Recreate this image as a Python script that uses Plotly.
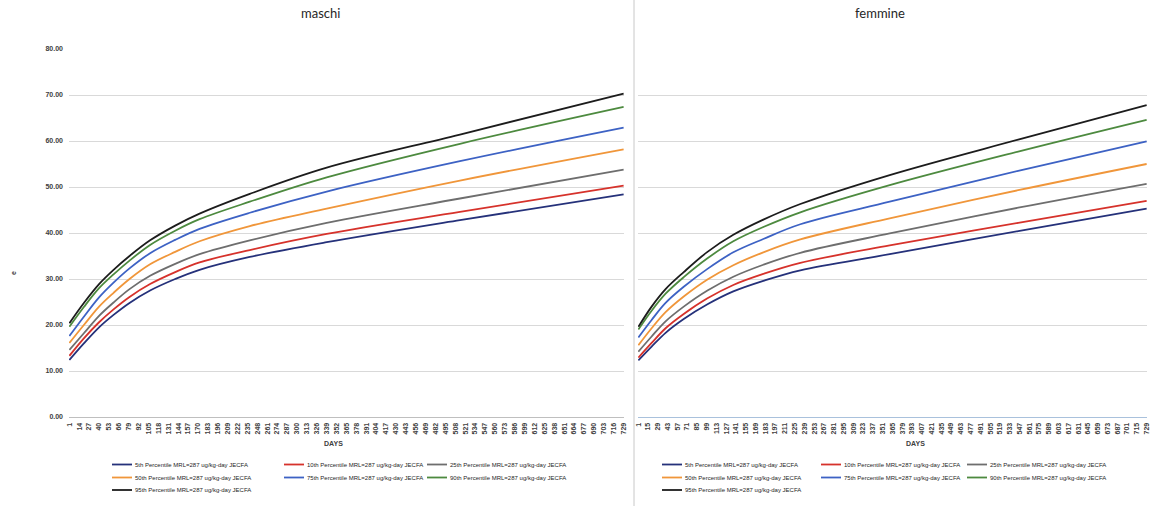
import plotly.graph_objects as go

# ---- data -----------------------------------------------------------------
# maschi (males): days and percentile curves
days_m = [1, 20, 40, 59, 80, 107, 140, 172, 238, 339, 514, 729]
m_p5 = [12.4, 16.0, 19.5, 22.2, 24.8, 27.5, 30.0, 32.0, 34.8, 38.0, 42.8, 48.4]
m_p10 = [13.3, 17.1, 20.6, 23.4, 26.1, 28.9, 31.5, 33.6, 36.3, 39.8, 44.6, 50.3]
m_p25 = [14.6, 18.2, 22.0, 24.9, 27.8, 30.7, 33.3, 35.4, 38.4, 42.2, 47.5, 53.8]
m_p50 = [16.1, 20.0, 24.0, 27.0, 30.0, 33.2, 35.9, 38.2, 41.5, 45.3, 51.4, 58.2]
m_p75 = [17.6, 21.8, 26.0, 29.2, 32.3, 35.6, 38.5, 40.9, 44.4, 49.0, 55.6, 62.9]
m_p90 = [19.6, 23.9, 28.0, 31.0, 34.0, 37.4, 40.5, 43.0, 46.8, 52.1, 59.4, 67.4]
m_p95 = [20.4, 24.8, 28.9, 32.0, 35.0, 38.4, 41.6, 44.2, 48.5, 54.2, 61.4, 70.3]

# femmine (females)
days_f = [1, 20, 40, 66, 100, 137, 180, 233, 361, 545, 729]
f_p5 = [12.3, 15.3, 18.3, 21.3, 24.5, 27.3, 29.6, 31.9, 35.4, 40.4, 45.3]
f_p10 = [12.9, 16.1, 19.3, 22.4, 25.8, 28.7, 31.1, 33.5, 37.3, 42.2, 47.0]
f_p25 = [14.2, 17.5, 20.8, 24.0, 27.5, 30.5, 33.1, 35.7, 39.9, 45.5, 50.7]
f_p50 = [15.6, 19.3, 22.8, 26.2, 29.9, 33.0, 35.8, 38.6, 43.2, 49.3, 55.0]
f_p75 = [17.3, 21.1, 24.8, 28.3, 32.2, 35.8, 38.7, 41.9, 46.8, 53.5, 59.9]
f_p90 = [19.0, 23.1, 26.8, 30.4, 34.5, 38.2, 41.3, 44.5, 50.4, 57.7, 64.6]
f_p95 = [19.6, 24.0, 27.8, 31.5, 35.9, 39.6, 42.9, 46.3, 52.6, 60.3, 67.8]

series_names = [
    "5th Percentile MRL=287 ug/kg-day JECFA",
    "10th Percentile MRL=287 ug/kg-day JECFA",
    "25th Percentile MRL=287 ug/kg-day JECFA",
    "50th Percentile MRL=287 ug/kg-day JECFA",
    "75th Percentile MRL=287 ug/kg-day JECFA",
    "90th Percentile MRL=287 ug/kg-day JECFA",
    "95th Percentile MRL=287 ug/kg-day JECFA",
]
series_colors = ["#25317a", "#d6322b", "#6e6e6e", "#f0963a", "#3d62c4", "#4d8a3f", "#1c1c1c"]

tick_days_m = list(range(1, 730, 13))
tick_days_f = list(range(1, 730, 14))
y_ticks = [0, 10, 20, 30, 40, 50, 60, 70, 80]

males = [m_p5, m_p10, m_p25, m_p50, m_p75, m_p90, m_p95]
females = [f_p5, f_p10, f_p25, f_p50, f_p75, f_p90, f_p95]

# ---- page geometry (pixels on a 1153 x 506 page) ---------------------------
W, H = 1153, 506


def px(x):
    return x / W


def py(y):
    return (H - y) / H


fig = go.Figure()

for vals, nm, c in zip(males, series_names, series_colors):
    fig.add_trace(go.Scatter(
        x=days_m, y=vals, name=nm, mode="lines", showlegend=False,
        line=dict(color=c, width=1.8, shape="spline", smoothing=1.0),
        xaxis="x", yaxis="y",
    ))
for vals, nm, c in zip(females, series_names, series_colors):
    fig.add_trace(go.Scatter(
        x=days_f, y=vals, name=nm, mode="lines", showlegend=False,
        line=dict(color=c, width=1.8, shape="spline", smoothing=1.0),
        xaxis="x2", yaxis="y2",
    ))

y_dom = [py(417), py(49)]
tick_font = dict(family="Liberation Sans", size=7, color="#404040", weight="bold")

fig.update_layout(
    width=W, height=H,
    margin=dict(l=0, r=0, t=0, b=0),
    paper_bgcolor="white", plot_bgcolor="white",
    showlegend=False,
    xaxis=dict(
        domain=[px(69), px(624)], range=[0.5, 729.5],
        tickmode="array", tickvals=tick_days_m, ticktext=[str(d) for d in tick_days_m],
        tickangle=-90, tickfont=tick_font, showgrid=False, zeroline=False,
        showline=True, linecolor="#bfbfbf", linewidth=1, ticks="",
        ticklabelstandoff=2, automargin=False, anchor="y",
    ),
    yaxis=dict(
        domain=y_dom, range=[0, 80], tickmode="array", tickvals=y_ticks,
        tickformat=".2f", tickfont=tick_font, showgrid=True,
        gridcolor="#d9d9d9", gridwidth=1, zeroline=False, showline=False,
        ticks="", ticklabelstandoff=5, automargin=False, anchor="x",
    ),
    xaxis2=dict(
        domain=[px(638), px(1147)], range=[0.5, 729.5],
        tickmode="array", tickvals=tick_days_f, ticktext=[str(d) for d in tick_days_f],
        tickangle=-90, tickfont=tick_font, showgrid=False, zeroline=False,
        showline=True, linecolor="#a9c1dc", linewidth=1, ticks="",
        ticklabelstandoff=2, automargin=False, anchor="y2",
    ),
    yaxis2=dict(
        domain=y_dom, range=[0, 80], tickmode="array", tickvals=y_ticks,
        showticklabels=False, showgrid=True, gridcolor="#d9d9d9", gridwidth=1,
        zeroline=False, showline=False, ticks="", automargin=False, anchor="x2",
    ),
)

# divider between the two charts
fig.add_shape(type="line", xref="paper", yref="paper",
              x0=px(634), x1=px(634), y0=0, y1=1,
              line=dict(color="#c8c8c8", width=1))

# legend keys below each chart: three columns, three rows
leg_cols_m = [112, 284, 427]
leg_cols_f = [662, 821, 967]
leg_rows = [464.5, 477.5, 490]
leg_font = dict(family="Liberation Sans", size=6, color="#262626")

for cols in (leg_cols_m, leg_cols_f):
    for i, (nm, c) in enumerate(zip(series_names, series_colors)):
        x0 = cols[i % 3]
        yy = py(leg_rows[i // 3])
        fig.add_shape(type="line", xref="paper", yref="paper",
                      x0=px(x0), x1=px(x0 + 20), y0=yy, y1=yy,
                      line=dict(color=c, width=1.8))
        fig.add_annotation(xref="paper", yref="paper", x=px(x0 + 21), y=yy,
                           xanchor="left", yanchor="middle", showarrow=False,
                           text=nm, font=leg_font)

title_font = dict(family="Lato", size=13, color="#262626")
small_bold = dict(family="Liberation Sans", size=7, color="#404040", weight="bold")
notes = [
    dict(text="maschi", x=px(320), y=py(13), font=title_font),
    dict(text="femmine", x=px(880), y=py(13), font=title_font),
    dict(text="DAYS", x=px(333), y=py(443), font=small_bold),
    dict(text="DAYS", x=px(915), y=py(443), font=small_bold),
    dict(text="e", x=px(13), y=py(273), font=small_bold, textangle=-90),
]
for n in notes:
    fig.add_annotation(xref="paper", yref="paper", xanchor="center", yanchor="middle",
                       showarrow=False, **n)

fig.write_html("out.html")
